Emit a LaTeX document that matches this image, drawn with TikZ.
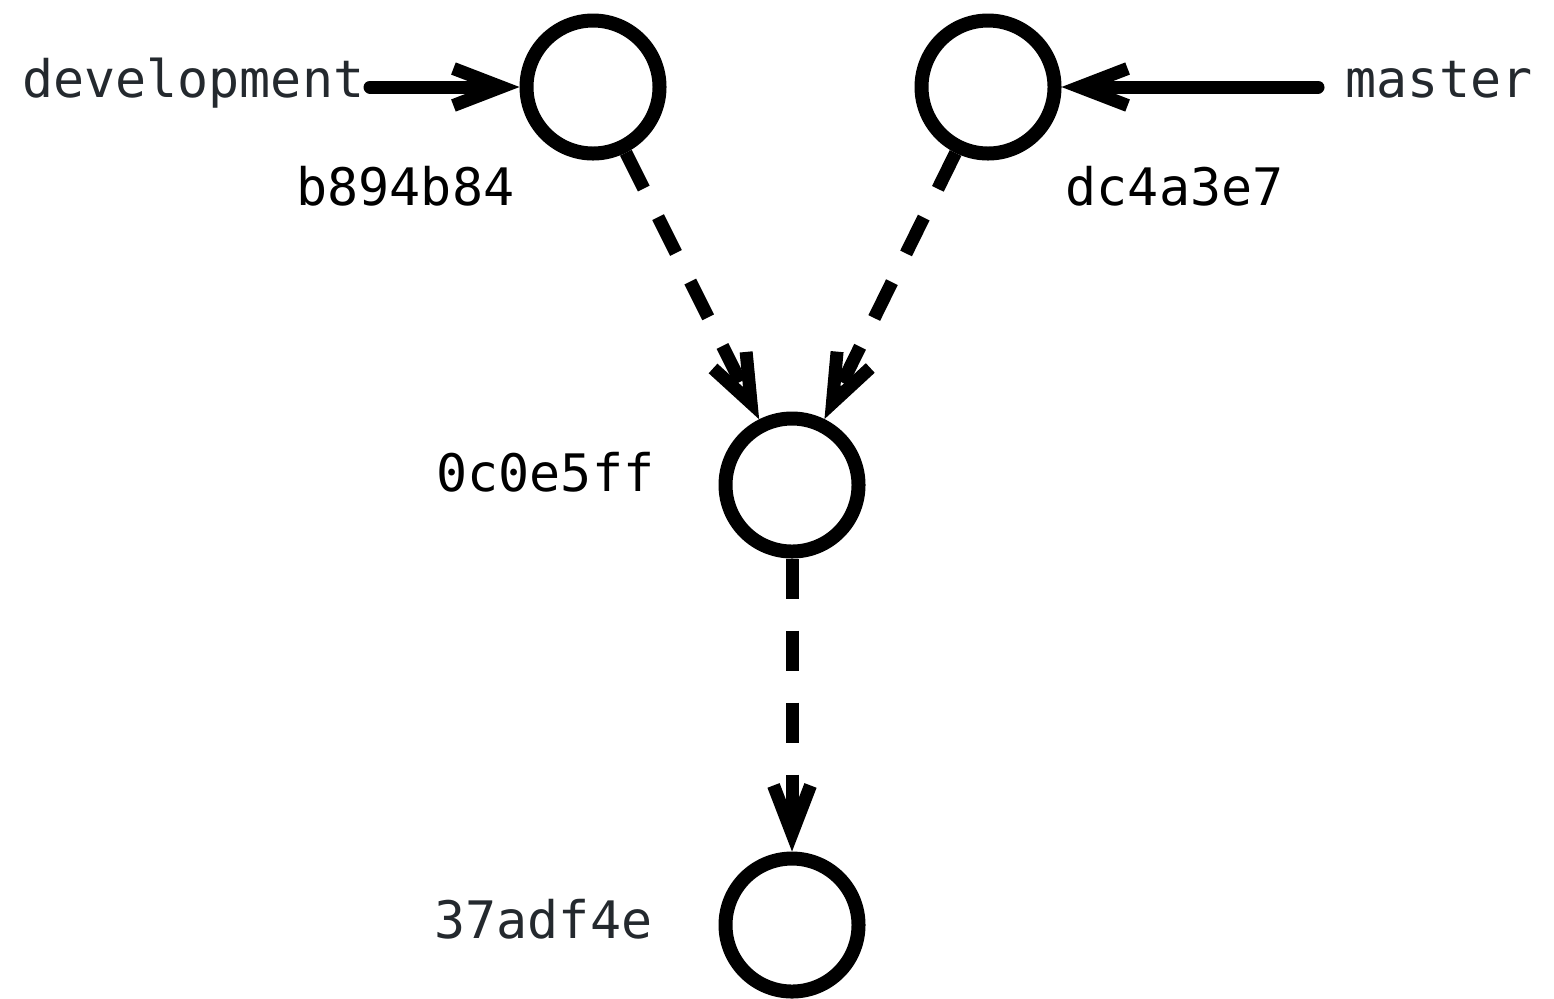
\documentclass[tikz,border=0pt]{standalone}
\usepackage{fontspec}
\setmonofont{DejaVu Sans Mono}
\usetikzlibrary{arrows.meta}
\definecolor{refgray}{HTML}{24292E}
\tikzset{
  commit/.style={circle, draw, line width=0.14cm, minimum size=1.33cm, inner sep=0pt},
  hashlabel/.style={font=\ttfamily\fontsize{14.7}{18}\selectfont, inner sep=0pt},
  branchlabel/.style={hashlabel, text=refgray},
  parent/.style={line width=0.13cm, dash pattern=on 0.4cm off 0.32cm, -{Straight Barb[length=0.48cm,width=0.37cm]}},
  pointer/.style={line width=0.13cm, line cap=round, -{Straight Barb[length=0.48cm,width=0.37cm]}}
}
\begin{document}
\begin{tikzpicture}

            \useasboundingbox (0,0) rectangle (15.54,-9.98);

            \node[commit] (b894b84) at (5.93,-0.87) {};
            \node[commit] (dc4a3e7) at (9.88,-0.87) {};
            \node[commit] (0c0e5ff) at (7.92,-4.85) {};
            \node[commit] (37adf4e) at (7.92,-9.25) {};

            \node[branchlabel, anchor=base east] (development) at (3.65,-0.97) {development};
            \node[branchlabel, anchor=base west] (master) at (13.45,-0.97) {master};

            \node[hashlabel, anchor=base east] (lb894b84) at (5.15,-2.05) {b894b84};
            \node[hashlabel, anchor=base west] (ldc4a3e7) at (10.65,-2.05) {dc4a3e7};
            \node[hashlabel, anchor=base east] (l0c0e5ff) at (6.55,-4.91) {0c0e5ff};
            \node[branchlabel, anchor=base east] (l37adf4e) at (6.53,-9.38) {37adf4e};

            \draw[pointer, shorten <=0.05cm] (development.east |- b894b84.west) -- (b894b84.west);
            \draw[pointer, shorten <=0.27cm] (master.west |- dc4a3e7.east) -- (dc4a3e7.east);

            \draw[parent] (b894b84) -- (0c0e5ff);
            \draw[parent] (dc4a3e7) -- (0c0e5ff);
            \draw[parent] (0c0e5ff) -- (37adf4e);

\end{tikzpicture}
\end{document}
